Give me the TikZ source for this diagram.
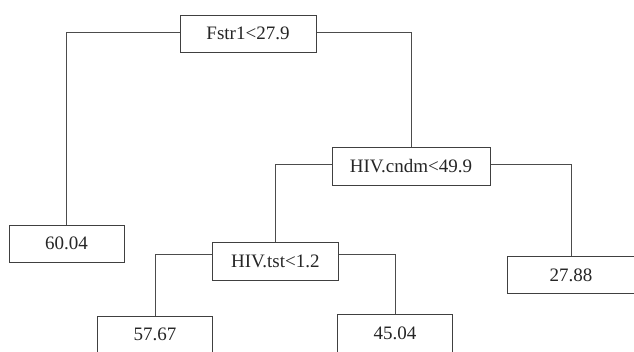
\documentclass[tikz,border=0pt]{standalone}
\usepackage{fontspec}
\setmainfont{Liberation Serif}
\begin{document}
\begin{tikzpicture}[x=1pt,y=-1pt,
  treebox/.style={draw=black!75, line width=1pt, fill=white, inner sep=0pt,
    minimum height=37pt, font=\fontsize{19}{22}\selectfont, text=black!85},
  link/.style={draw=black!70, line width=1pt}]
\useasboundingbox (0,0) rectangle (634,352);
\clip (0,0) rectangle (634,352);
\node[treebox, minimum width=136pt] (f) at (248,33.8) {Fstr1<27.9};
\node[treebox, minimum width=158pt, minimum height=37.6pt] (c) at (411,166.5) {HIV.cndm<49.9};
\node[treebox, minimum width=115pt, minimum height=37.3pt] (l) at (66.5,243.7) {60.04};
\node[treebox, minimum width=126pt, minimum height=38pt] (t) at (275.3,261.8) {HIV.tst<1.2};
\node[treebox, minimum width=127pt, minimum height=36.6pt] (r) at (571,275) {27.88};
\node[treebox, minimum width=115pt] (a) at (155,334.8) {57.67};
\node[treebox, minimum width=115pt] (b) at (395,333.5) {45.04};
\draw[link] ([yshift=1pt]f.west) -| (l.north);
\draw[link] ([yshift=1pt]f.east) -| (c.north);
\draw[link] ([yshift=1.5pt]c.west) -| (t.north);
\draw[link] ([yshift=1.5pt]c.east) -| (r.north);
\draw[link] ([yshift=6.8pt]t.west) -| (a.north);
\draw[link] ([yshift=6.8pt]t.east) -| (b.north);
\end{tikzpicture}
\end{document}
